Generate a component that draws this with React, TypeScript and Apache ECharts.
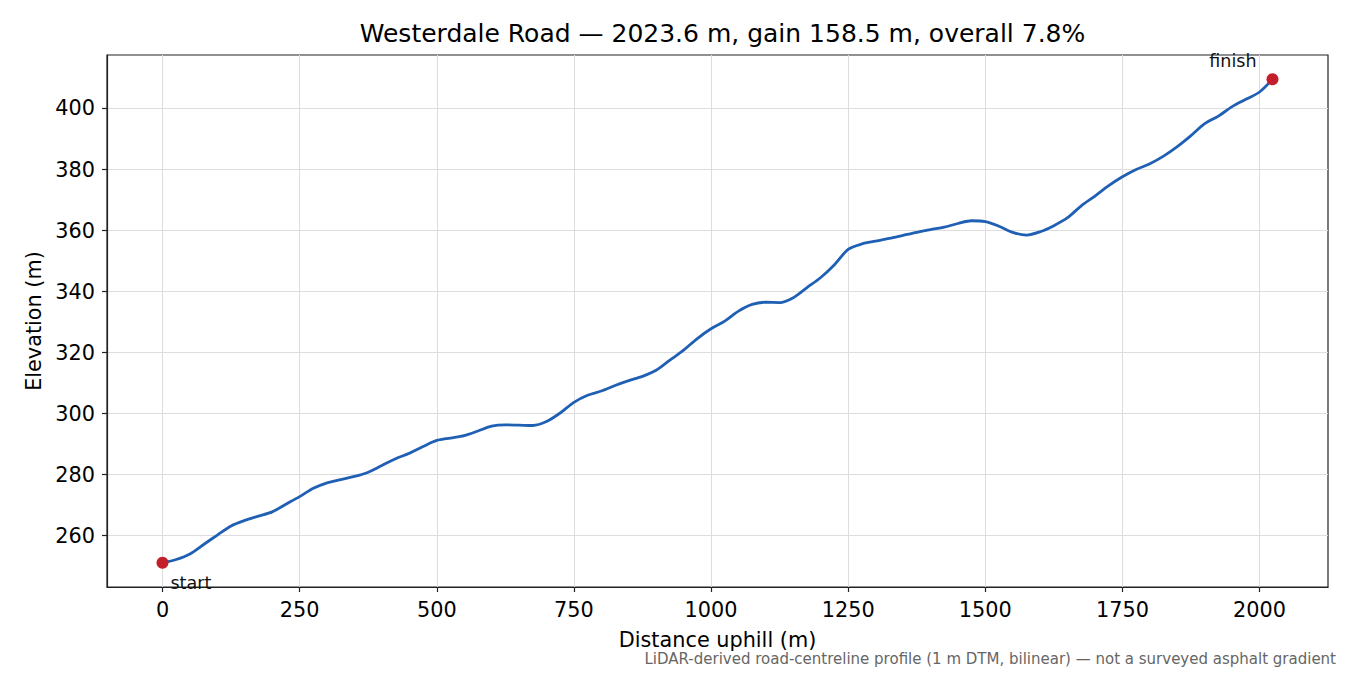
import React, { useEffect, useRef } from "react";
import * as echarts from "echarts";

// distance along the road (m)
const distances = [
  0, 25, 50, 75, 100, 125, 150, 175, 200, 225, 250, 275, 300, 325, 350, 375,
  400, 425, 450, 475, 500, 525, 550, 575, 600, 625, 650, 675, 700, 725, 750,
  775, 800, 825, 850, 875, 900, 925, 950, 975, 1000, 1025, 1050, 1075, 1100,
  1125, 1150, 1175, 1200, 1225, 1250, 1275, 1300, 1325, 1350, 1375, 1400,
  1425, 1450, 1475, 1500, 1525, 1550, 1575, 1600, 1625, 1650, 1675, 1700,
  1725, 1750, 1775, 1800, 1825, 1850, 1875, 1900, 1925, 1950, 1975, 2000,
  2023.6,
];

// elevation (m)
const elevations = [
  251.1, 252.2, 254.0, 257.1, 260.2, 263.2, 265.0, 266.4, 267.8, 270.3, 272.8,
  275.5, 277.3, 278.4, 279.4, 280.8, 283.0, 285.2, 287.0, 289.2, 291.2, 292.0,
  292.8, 294.3, 295.9, 296.3, 296.2, 296.1, 297.4, 300.2, 303.7, 306.0, 307.4,
  309.2, 310.8, 312.2, 314.2, 317.5, 320.8, 324.6, 327.8, 330.3, 333.6, 335.8,
  336.5, 336.4, 338.0, 341.3, 344.6, 348.8, 353.8, 355.6, 356.5, 357.4, 358.4,
  359.4, 360.3, 361.1, 362.3, 363.2, 362.9, 361.4, 359.4, 358.5, 359.6, 361.6,
  364.2, 368.1, 371.3, 374.7, 377.6, 380.0, 381.9, 384.4, 387.5, 391.1, 395.0,
  397.5, 400.6, 403.0, 405.4, 409.6,
];

const xTicks = [0, 250, 500, 750, 1000, 1250, 1500, 1750, 2000];
const yTicks = [260, 280, 300, 320, 340, 360, 380, 400];

const totalLength = 2023.6;
const gain = 158.5;
const titleText = `Westerdale Road — ${totalLength.toFixed(1)} m, gain ${gain.toFixed(
  1
)} m, overall ${((gain / totalLength) * 100).toFixed(1)}%`;
const footnote =
  "LiDAR-derived road-centreline profile (1 m DTM, bilinear) — not a surveyed asphalt gradient";

const FONT = "DejaVu Sans";

const App: React.FC = () => {
  const chartRef = useRef<HTMLDivElement>(null);

  useEffect(() => {
    if (!chartRef.current) return;
    const chart = echarts.init(chartRef.current, undefined, { renderer: "svg" });

    const line = distances.map((d, i) => [d, elevations[i]]);
    const last = distances.length - 1;

    // 5% margins either side, matplotlib style
    const xPad = (distances[last] - distances[0]) * 0.05;
    const yMin = Math.min(...elevations);
    const yMax = Math.max(...elevations);
    const yPad = (yMax - yMin) * 0.05;

    const option: echarts.EChartsOption = {
      animation: false,
      backgroundColor: "#ffffff",
      textStyle: { fontFamily: FONT },
      title: {
        text: titleText,
        left: 717.5,
        top: 16,
        textAlign: "center",
        textStyle: {
          fontFamily: FONT,
          fontSize: 25,
          fontWeight: "normal",
          color: "#000",
        },
      },
      grid: {
        left: 107,
        right: 22,
        top: 55,
        bottom: 88,
        show: true,
        borderColor: "#222",
        borderWidth: 1.2,
        backgroundColor: "transparent",
      },
      xAxis: {
        type: "value",
        min: distances[0] - xPad,
        max: distances[last] + xPad,
        name: "Distance uphill (m)",
        nameLocation: "middle",
        nameGap: 42,
        nameTextStyle: { fontFamily: FONT, fontSize: 20.8, color: "#000" },
        axisLine: { show: true, onZero: false, lineStyle: { color: "#222", width: 1.2 } },
        axisTick: {
          show: true,
          length: 5,
          customValues: xTicks,
          lineStyle: { color: "#222", width: 1.2 },
        },
        axisLabel: {
          customValues: xTicks,
          formatter: (v: number) => String(v),
          fontFamily: FONT,
          fontSize: 20.8,
          color: "#000",
          margin: 12,
        },
        splitLine: { show: true, lineStyle: { color: "#dedede", width: 1 } },
      },
      yAxis: {
        type: "value",
        min: yMin - yPad,
        max: yMax + yPad,
        name: "Elevation (m)",
        nameLocation: "middle",
        nameGap: 62,
        nameTextStyle: { fontFamily: FONT, fontSize: 20.8, color: "#000" },
        axisLine: { show: true, onZero: false, lineStyle: { color: "#222", width: 1.2 } },
        axisTick: {
          show: true,
          length: 5,
          customValues: yTicks,
          lineStyle: { color: "#222", width: 1.2 },
        },
        axisLabel: {
          customValues: yTicks,
          formatter: (v: number) => String(v),
          fontFamily: FONT,
          fontSize: 20.8,
          color: "#000",
          margin: 12,
        },
        splitLine: { show: true, lineStyle: { color: "#dedede", width: 1 } },
      },
      series: [
        {
          type: "line",
          data: line,
          smooth: 0.3,
          showSymbol: false,
          lineStyle: { color: "#1f5fb4", width: 2.8 },
          z: 2,
        },
        {
          type: "scatter",
          symbolSize: 12,
          itemStyle: { color: "#c41e2a", opacity: 1 },
          z: 3,
          data: [
            {
              value: [distances[0], elevations[0]],
              label: {
                show: true,
                formatter: "start",
                position: [14, 26],
                align: "left",
                verticalAlign: "middle",
                fontFamily: FONT,
                fontSize: 17.5,
                color: "#111",
              },
            },
            {
              value: [distances[last], elevations[last]],
              label: {
                show: true,
                formatter: "finish",
                position: [-10, -12],
                align: "right",
                verticalAlign: "middle",
                fontFamily: FONT,
                fontSize: 17.5,
                color: "#111",
              },
            },
          ],
        },
      ],
      graphic: [
        {
          type: "text",
          right: 14,
          top: 651,
          style: {
            text: footnote,
            fontFamily: FONT,
            fontSize: 15,
            fill: "#666",
          },
        },
      ],
    };

    chart.setOption(option);
    return () => chart.dispose();
  }, []);

  return (
    <div
      ref={chartRef}
      style={{ position: "fixed", left: 0, top: 0, width: 1350, height: 675 }}
    />
  );
};

export default App;
